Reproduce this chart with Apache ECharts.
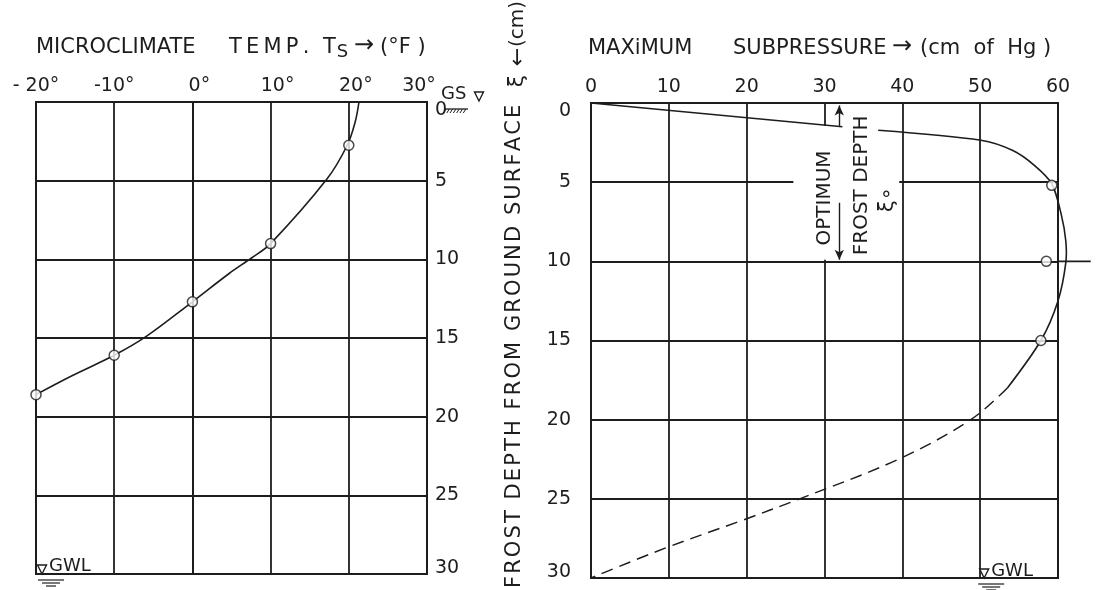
<!DOCTYPE html>
<html>
<head>
<meta charset="utf-8">
<script src="https://cdn.jsdelivr.net/npm/echarts@6/dist/echarts.min.js"></script>
<style>
  html, body { margin: 0; padding: 0; background: #fff; }
  #chart { width: 1098px; height: 590px; }
</style>
</head>
<body>
<div id="chart"></div>
<script>
// ---- Left panel: microclimate temperature against frost depth ----
const tempTicks = [-20, -10, 0, 10, 20, 30];
const tempTickLabels = ['- 20°', '-10°', '0°', '10°', '20°', '30°'];
const tempCurveT = [21.3, 20.8, 19.8, 17.2, 10, 7.6, 4.7, 0, -5.9, -10, -15.4, -20];
const tempCurveDepth = [0, 1.3, 2.75, 4.9, 9.0, 9.9, 10.9, 12.7, 14.9, 16.1, 17.4, 18.6];
const tempPointT = [20, 10, 0, -10, -20];
const tempPointDepth = [2.75, 9.0, 12.7, 16.1, 18.6];

// ---- Right panel: maximum subpressure against frost depth ----
const depthTicks = [0, 5, 10, 15, 20, 25, 30];
const pressTicks = [0, 10, 20, 30, 40, 50, 60];
const surfaceP = [0, 32.3];
const surfaceDepth = [0, 1.5];
const pressCurveP = [36.9, 50.1, 54.2, 57.0, 59.2, 60.4, 61.0, 61.0, 60.0, 57.8, 53.5];
const pressCurveDepth = [1.72, 2.35, 3.0, 3.95, 5.1, 7.0, 8.7, 10.1, 12.5, 15, 18.0];
const pressDashP = [53.5, 48.8, 39.5, 26.8, 19.2, 9.6, 0];
const pressDashDepth = [18.0, 20, 22.5, 25, 26.4, 28.1, 30];
const pressPointP = [59.2, 58.5, 57.8];
const pressPointDepth = [5.2, 10, 15];
const optimumDepth = 10;
const optimumRunOut = 64.2;   // 10 cm line carried past the frame
const gwlDepth = 30;

const INK = '#1d1d1d';
const FONT = 'DejaVu Sans';
const HAIR = '\u200A';
const THIN = '\u2009';

const zip = (xs, ys) => xs.map((x, i) => [x, ys[i]]);
const spaced = (s, sep) => s.split('').join(sep);

function yLabelFmt(v) {
  if (v === 0) return '{lo|0}';
  if (v === 30) return '{hi|30}';
  return '{n|' + v + '}';
}
const yRich = {
  lo: { padding: [16, 0, 0, 0] },
  hi: { padding: [0, 0, 11, 0] },
  n: {}
};

function tempLabelFmt(v) {
  const s = tempTickLabels[tempTicks.indexOf(v)];
  if (v === 30) return '{l|' + s + '}';
  if (v >= 0) return '{r|' + s + '}';
  return '{a|' + s + '}';
}
const tempRich = { a: {}, r: { padding: [0, 0, 0, 14] }, l: { padding: [0, 16, 0, 0] } };

const labelBase = { color: INK, fontFamily: FONT, fontSize: 19 };
const gridLine = { show: true, lineStyle: { color: INK, width: 1.8 } };

const option = {
  animation: false,
  backgroundColor: '#fff',
  textStyle: { fontFamily: FONT },
  grid: [
    { left: 36, top: 102, width: 391, height: 472, show: true, borderColor: INK, borderWidth: 2, backgroundColor: 'transparent' },
    { left: 591, top: 103, width: 467, height: 475, show: true, borderColor: INK, borderWidth: 2, backgroundColor: 'transparent' }
  ],
  xAxis: [
    {
      gridIndex: 0, type: 'value', position: 'top', min: -20, max: 30, interval: 10,
      axisLine: { show: true, lineStyle: { color: INK, width: 2 } },
      axisTick: { show: false }, splitLine: gridLine,
      axisLabel: Object.assign({}, labelBase, { margin: 6, formatter: tempLabelFmt, rich: tempRich })
    },
    {
      gridIndex: 1, type: 'value', position: 'top', min: 0, max: 60, interval: 10,
      axisLine: { show: true, lineStyle: { color: INK, width: 2 } },
      axisTick: { show: false }, splitLine: gridLine,
      axisLabel: Object.assign({}, labelBase, { margin: 6, formatter: v => String(pressTicks[pressTicks.indexOf(v)]) })
    }
  ],
  yAxis: [
    {
      gridIndex: 0, type: 'value', inverse: true, position: 'right', min: 0, max: 30, interval: 5,
      axisLine: { show: true, lineStyle: { color: INK, width: 2 } },
      axisTick: { show: false }, splitLine: gridLine,
      axisLabel: Object.assign({}, labelBase, { margin: 8, align: 'left', formatter: yLabelFmt, rich: yRich })
    },
    {
      gridIndex: 1, type: 'value', inverse: true, position: 'left', min: 0, max: 30, interval: 5,
      axisLine: { show: true, lineStyle: { color: INK, width: 2 } },
      axisTick: { show: false }, splitLine: gridLine,
      axisLabel: Object.assign({}, labelBase, { margin: 20, align: 'right', formatter: yLabelFmt, rich: yRich })
    }
  ],
  series: [
    {
      name: 'Ts', type: 'line', xAxisIndex: 0, yAxisIndex: 0, smooth: 0.35,
      data: zip(tempCurveT, tempCurveDepth), showSymbol: false,
      lineStyle: { color: INK, width: 1.6 }
    },
    {
      name: 'Ts points', type: 'scatter', xAxisIndex: 0, yAxisIndex: 0, z: 4,
      data: zip(tempPointT, tempPointDepth), symbol: 'circle', symbolSize: 10,
      itemStyle: { color: '#fff', borderColor: INK, borderWidth: 1.5 }
    },
    {
      // blank panel behind the "optimum frost depth" lettering
      name: 'label panel', type: 'line', xAxisIndex: 1, yAxisIndex: 1, z: 1,
      data: [], showSymbol: false, lineStyle: { opacity: 0 },
      markArea: {
        silent: true, itemStyle: { color: '#fff', opacity: 1 },
        data: [[{ coord: [26, 1.45] }, { coord: [39.6, 9.9] }]]
      }
    },
    {
      name: 'surface', type: 'line', xAxisIndex: 1, yAxisIndex: 1, z: 3,
      data: zip(surfaceP, surfaceDepth), showSymbol: false,
      lineStyle: { color: INK, width: 1.5 },
      markLine: {
        silent: true, symbol: ['none', 'arrow'], symbolSize: [7, 10], label: { show: false },
        lineStyle: { color: INK, width: 1.4, type: 'solid' },
        data: [
          [{ coord: [31.9, surfaceDepth[1]] }, { coord: [31.9, 0.15] }],
          [{ coord: [31.9, 6.3] }, { coord: [31.9, optimumDepth - 0.1] }]
        ]
      }
    },
    {
      // measured subpressure curve; it bulges past the 60 frame line, so it is drawn unclipped
      name: 'subpressure', type: 'custom', xAxisIndex: 1, yAxisIndex: 1, z: 3, clip: false,
      silent: true, data: [[0, 0]],
      renderItem: (params, api) => {
        const pts = pressCurveP.map((p, i) => api.coord([p, pressCurveDepth[i]]));
        const a = api.coord([pressTicks[pressTicks.length - 1], optimumDepth]);
        const b = api.coord([optimumRunOut, optimumDepth]);
        return {
          type: 'group',
          children: [
            { type: 'polyline', shape: { points: pts, smooth: 0.3 }, style: { stroke: INK, lineWidth: 1.6, fill: null } },
            { type: 'line', shape: { x1: a[0], y1: a[1], x2: b[0], y2: b[1] }, style: { stroke: INK, lineWidth: 1.8 } }
          ]
        };
      }
    },
    {
      name: 'subpressure extrapolated', type: 'line', xAxisIndex: 1, yAxisIndex: 1, z: 3, smooth: 0.35,
      data: zip(pressDashP, pressDashDepth), showSymbol: false,
      lineStyle: { color: INK, width: 1.5, type: [12, 7] }
    },
    {
      name: 'subpressure points', type: 'scatter', xAxisIndex: 1, yAxisIndex: 1, z: 4, clip: false,
      data: zip(pressPointP, pressPointDepth), symbol: 'circle', symbolSize: 10,
      itemStyle: { color: '#fff', borderColor: INK, borderWidth: 1.5 }
    }
  ]
};

const chart = echarts.init(document.getElementById('chart'), null, { renderer: 'canvas' });
chart.setOption(option);

const px = (g, x, y) => chart.convertToPixel({ gridIndex: g }, [x, y]);

function text(x, y, str, o) {
  o = o || {};
  return {
    type: 'text', x: x, y: y, rotation: o.rotation || 0, z: 10,
    style: Object.assign({
      text: str, fill: INK, font: (o.size || 21) + 'px "' + FONT + '"',
      align: o.align || 'left', verticalAlign: o.valign || 'middle'
    }, o.style || {})
  };
}
function seg(x1, y1, x2, y2, w) {
  return { type: 'line', z: 10, shape: { x1: x1, y1: y1, x2: x2, y2: y2 }, style: { stroke: INK, lineWidth: w || 1.4 } };
}
function waterMark(x, y) {
  // inverted triangle standing on the level line
  return { type: 'polygon', z: 10, shape: { points: [[x, y], [x - 4.5, y - 9], [x + 4.5, y - 9]] }, style: { fill: '#fff', stroke: INK, lineWidth: 1.4 } };
}
function waterHatch(x, y) {
  return [seg(x, y, x + 26, y, 1.2), seg(x + 4, y + 3, x + 22, y + 3, 1.2), seg(x + 8, y + 6, x + 18, y + 6, 1.2)];
}

const g = [];
// panel titles
g.push(text(36, 48, 'MICROCLIMATE'));
g.push(text(229, 48, spaced('TEMP.', THIN)));
g.push({
  type: 'text', x: 323, y: 48, z: 10,
  style: {
    text: 'T{s|S}', fill: INK, font: '21px "' + FONT + '"', verticalAlign: 'middle',
    rich: { s: { fontSize: 18, fontFamily: FONT, padding: [9, 0, 0, 1] } }
  }
});
g.push(text(354, 46, '→', { size: 24 }));
g.push(text(380, 48, '(°F )'));
g.push(text(588, 49, 'MAXiMUM'));
g.push(text(733, 49, 'SUBPRESSURE'));
g.push(text(892, 47, '→', { size: 24 }));
g.push(text(920, 49, '(cm  of  Hg )'));

// ground surface mark on the left panel
const gs = px(0, 30, 0);
g.push(text(gs[0] + 14, gs[1] - 8, 'GS', { size: 18 }));
g.push(waterMark(gs[0] + 52, gs[1] - 1));
g.push(seg(gs[0] + 17, gs[1] + 7, gs[0] + 41, gs[1] + 7, 1.3));
for (let i = 0; i < 7; i++) {
  const hx = gs[0] + 19 + i * 3.3;
  g.push(seg(hx, gs[1] + 7, hx - 2.5, gs[1] + 11, 1));
}

// ground water level marks
const gl = px(0, -20, gwlDepth);
g.push(waterMark(gl[0] + 6, gl[1]));
g.push(text(gl[0] + 13, gl[1] - 8, 'GWL', { size: 18 }));
waterHatch(gl[0] + 2, gl[1] + 6).forEach(e => g.push(e));
const gr = px(1, 50, gwlDepth);
g.push(waterMark(gr[0] + 4, gr[1]));
g.push(text(gr[0] + 11, gr[1] - 7, 'GWL', { size: 18 }));
waterHatch(gr[0] - 2, gr[1] + 6).forEach(e => g.push(e));

// optimum frost depth lettering
const R = Math.PI / 2;
const o1 = px(1, 30, 6.0);
g.push(text(o1[0], o1[1], 'OPTIMUM', { rotation: R, align: 'center', size: 20 }));
const o2 = px(1, 34.8, 5.2);
g.push(text(o2[0], o2[1], 'FROST DEPTH', { rotation: R, align: 'center', size: 20 }));
const o3 = px(1, 38.1, 6.1);
g.push(text(o3[0], o3[1], 'ξ∘', { rotation: R, align: 'center', size: 21 }));

// vertical axis title
g.push(text(515, 588, spaced('FROST DEPTH FROM GROUND SURFACE', HAIR), { rotation: R, size: 21 }));
g.push(text(517, 81, 'ξ', { rotation: R, align: 'center', size: 22 }));
g.push(text(518, 57, '←', { rotation: R, align: 'center', size: 22 }));
g.push(text(518, 24, '(cm)', { rotation: R, align: 'center', size: 20 }));

chart.setOption({ graphic: g });
</script>
</body>
</html>
